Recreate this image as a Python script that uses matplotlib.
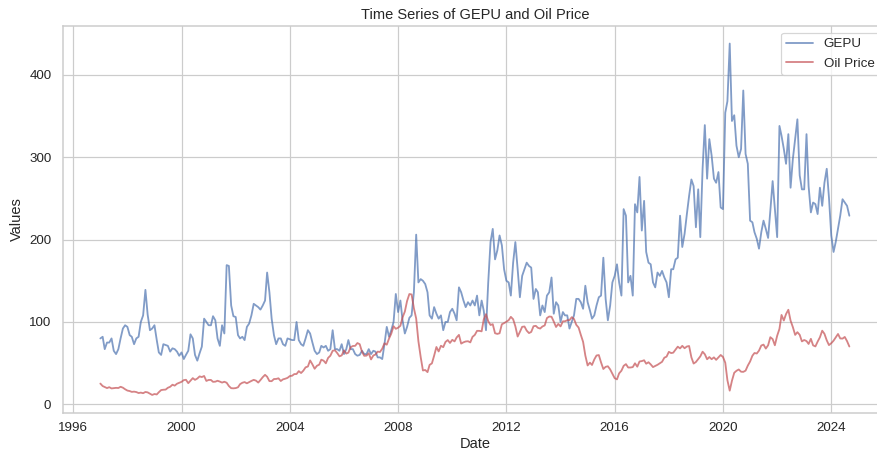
import matplotlib
matplotlib.use('Agg')
import matplotlib.pyplot as plt
import matplotlib.dates as mdates
import numpy as np
import pandas as pd
import seaborn as sns

# monthly values, Jan 1997 .. Sep 2024 (one row per year)
gepu = [
    80, 82, 67, 75, 75, 80, 65, 61, 67, 80, 92, 96,             # 1997
    94, 84, 82, 73, 80, 82, 100, 108, 139, 109, 90, 92,         # 1998
    96, 78, 63, 60, 73, 72, 71, 64, 68, 67, 64, 59,             # 1999
    63, 55, 60, 65, 85, 80, 60, 53, 62, 70, 104, 100,           # 2000
    96, 96, 107, 102, 80, 71, 96, 86, 169, 168, 120, 107,       # 2001
    106, 84, 80, 82, 78, 94, 98, 108, 122, 120, 118, 115,       # 2002
    120, 126, 160, 136, 104, 84, 73, 80, 80, 73, 71, 80,        # 2003
    79, 78, 78, 100, 78, 73, 71, 80, 90, 86, 75, 65,            # 2004
    61, 63, 71, 69, 71, 65, 67, 90, 67, 67, 65, 73,             # 2005
    61, 67, 78, 67, 67, 61, 59, 60, 65, 61, 61, 67,             # 2006
    61, 65, 64, 57, 57, 55, 73, 94, 82, 90, 100, 134,           # 2007
    112, 126, 102, 86, 94, 105, 108, 136, 206, 148, 152, 150,   # 2008
    146, 136, 108, 104, 118, 110, 104, 108, 90, 100, 100, 112,  # 2009
    116, 110, 102, 142, 136, 126, 118, 124, 120, 126, 120, 132, # 2010
    108, 126, 114, 90, 148, 197, 213, 176, 187, 205, 193, 164,  # 2011
    150, 148, 132, 172, 197, 164, 130, 156, 164, 172, 168, 166, # 2012
    128, 140, 136, 108, 120, 112, 132, 136, 154, 110, 124, 120, # 2013
    100, 112, 108, 108, 92, 100, 108, 128, 128, 124, 116, 144,  # 2014
    124, 114, 104, 108, 120, 130, 132, 178, 128, 102, 120, 148, # 2015
    156, 170, 148, 132, 237, 229, 148, 156, 132, 243, 233, 276, # 2016
    211, 247, 185, 172, 170, 148, 142, 160, 156, 162, 154, 148, # 2017
    130, 164, 164, 176, 178, 229, 191, 207, 231, 253, 273, 265, # 2018
    215, 261, 203, 286, 339, 274, 322, 302, 274, 269, 282, 239, # 2019
    237, 354, 368, 438, 344, 351, 314, 300, 310, 381, 304, 292, # 2020
    223, 221, 209, 201, 189, 209, 223, 213, 202, 235, 271, 237, # 2021
    203, 338, 326, 310, 292, 328, 263, 298, 322, 346, 278, 261, # 2022
    261, 328, 265, 233, 245, 243, 231, 263, 241, 269, 286, 251, # 2023
    205, 185, 197, 213, 229, 249, 245, 241, 229,                # 2024
]

oil = [
    25.2, 22.2, 21.0, 19.7, 20.8, 19.3, 19.7, 20.0, 19.8, 21.3, 20.2, 18.3,      # 1997
    16.7, 16.1, 15.1, 15.4, 14.9, 13.7, 14.2, 13.5, 15.0, 14.5, 13.0, 11.4,      # 1998
    12.5, 12.0, 14.7, 17.3, 17.7, 17.9, 20.1, 21.3, 23.8, 22.7, 25.0, 26.1,      # 1999
    27.3, 29.4, 29.8, 25.7, 28.8, 31.8, 29.7, 31.3, 33.9, 33.1, 34.4, 28.4,      # 2000
    29.6, 29.6, 27.3, 27.5, 28.6, 27.6, 26.4, 27.4, 26.2, 22.2, 19.6, 19.4,      # 2001
    19.7, 20.7, 24.5, 26.2, 27.0, 25.5, 27.0, 28.4, 29.7, 28.8, 26.4, 29.5,      # 2002
    33.0, 35.8, 33.5, 28.2, 28.1, 30.7, 30.8, 31.6, 28.3, 30.3, 31.1, 32.1,      # 2003
    34.3, 34.7, 36.7, 36.8, 40.3, 38.0, 40.8, 44.9, 45.9, 53.3, 48.5, 43.2,      # 2004
    46.8, 48.2, 54.2, 53.0, 49.8, 56.4, 59.0, 65.0, 65.6, 62.3, 58.3, 59.4,      # 2005
    65.5, 61.6, 62.7, 69.4, 70.8, 71.0, 74.4, 73.0, 63.8, 58.9, 59.1, 62.0,      # 2006
    54.5, 59.3, 60.4, 64.0, 63.5, 67.5, 74.1, 72.4, 79.9, 85.8, 94.8, 91.7,      # 2007
    93.0, 95.4, 105.5, 112.6, 125.4, 133.9, 133.4, 116.7, 104.1, 76.6, 57.3, 41.1,  # 2008
    41.7, 39.1, 47.9, 49.7, 59.0, 69.6, 64.2, 71.1, 69.4, 75.7, 78.0, 74.5,      # 2009
    78.3, 76.4, 81.2, 84.3, 73.7, 75.3, 76.3, 76.6, 75.2, 81.9, 84.3, 89.2,      # 2010
    89.2, 88.6, 102.9, 109.5, 100.9, 96.3, 97.3, 86.3, 85.5, 86.3, 97.2, 98.6,   # 2011
    100.3, 102.2, 106.2, 103.3, 94.7, 82.3, 87.9, 94.1, 94.5, 89.5, 86.5, 87.9,  # 2012
    94.8, 95.3, 92.9, 92.0, 94.5, 95.8, 104.7, 106.6, 106.3, 100.5, 93.9, 97.6,  # 2013
    94.6, 100.8, 100.8, 102.1, 102.2, 105.8, 103.6, 96.5, 93.2, 84.4, 75.8, 59.3,  # 2014
    47.2, 50.6, 47.8, 54.5, 59.3, 59.8, 50.9, 42.9, 45.5, 46.2, 42.4, 37.2,      # 2015
    31.7, 30.3, 37.6, 40.8, 46.7, 48.8, 44.7, 44.7, 45.2, 49.8, 45.7, 52.0,      # 2016
    52.5, 53.5, 49.3, 51.1, 48.5, 45.2, 46.6, 48.0, 49.8, 51.6, 56.6, 57.9,      # 2017
    63.7, 62.2, 62.7, 66.3, 70.0, 67.9, 71.0, 68.1, 70.2, 70.8, 57.0, 49.5,      # 2018
    51.4, 55.0, 58.2, 63.9, 60.8, 54.7, 57.4, 54.8, 57.0, 54.0, 57.0, 59.9,      # 2019
    57.5, 50.5, 29.2, 16.6, 28.6, 38.3, 40.7, 42.3, 39.6, 39.4, 40.9, 47.0,      # 2020
    52.0, 59.0, 62.3, 61.7, 65.2, 71.4, 72.5, 67.7, 71.7, 81.5, 79.2, 71.7,      # 2021
    83.2, 91.6, 108.5, 101.8, 109.6, 114.8, 101.6, 93.7, 84.3, 87.6, 84.4, 76.4, # 2022
    78.1, 76.8, 73.3, 79.5, 71.6, 70.3, 76.1, 81.4, 89.4, 85.6, 77.7, 71.9,      # 2023
    74.2, 77.3, 81.3, 85.4, 80.0, 79.8, 81.8, 76.7, 70.2,                        # 2024
]

dates = pd.date_range('1997-01-01', periods=len(gepu), freq='MS')

sns.set_theme(style='whitegrid')
plt.rcParams['font.family'] = ['Liberation Sans', 'DejaVu Sans']

fig = plt.figure(figsize=(10, 453 / 87.7), dpi=87.7)
# axes run past the right edge of the picture, as in the original
ax = fig.add_axes([62.9 / 877, 40.5 / 453, 823.9 / 877, 386.5 / 453])

ax.plot(dates, gepu, label='GEPU', color='b', alpha=0.7)
ax.plot(dates, oil, label='Oil Price', color='r', alpha=0.7)

ax.xaxis.set_major_locator(mdates.YearLocator(4))
ax.xaxis.set_major_formatter(mdates.DateFormatter('%Y'))
ax.tick_params(axis='x', pad=plt.rcParams['xtick.major.pad'] - 1.5)

ax.set_title('Time Series of GEPU and Oil Price')
ax.set_xlabel('Date', labelpad=2)
ax.set_ylabel('Values')
ax.legend(loc='upper right')

fig.savefig('out.png', dpi=87.7)
